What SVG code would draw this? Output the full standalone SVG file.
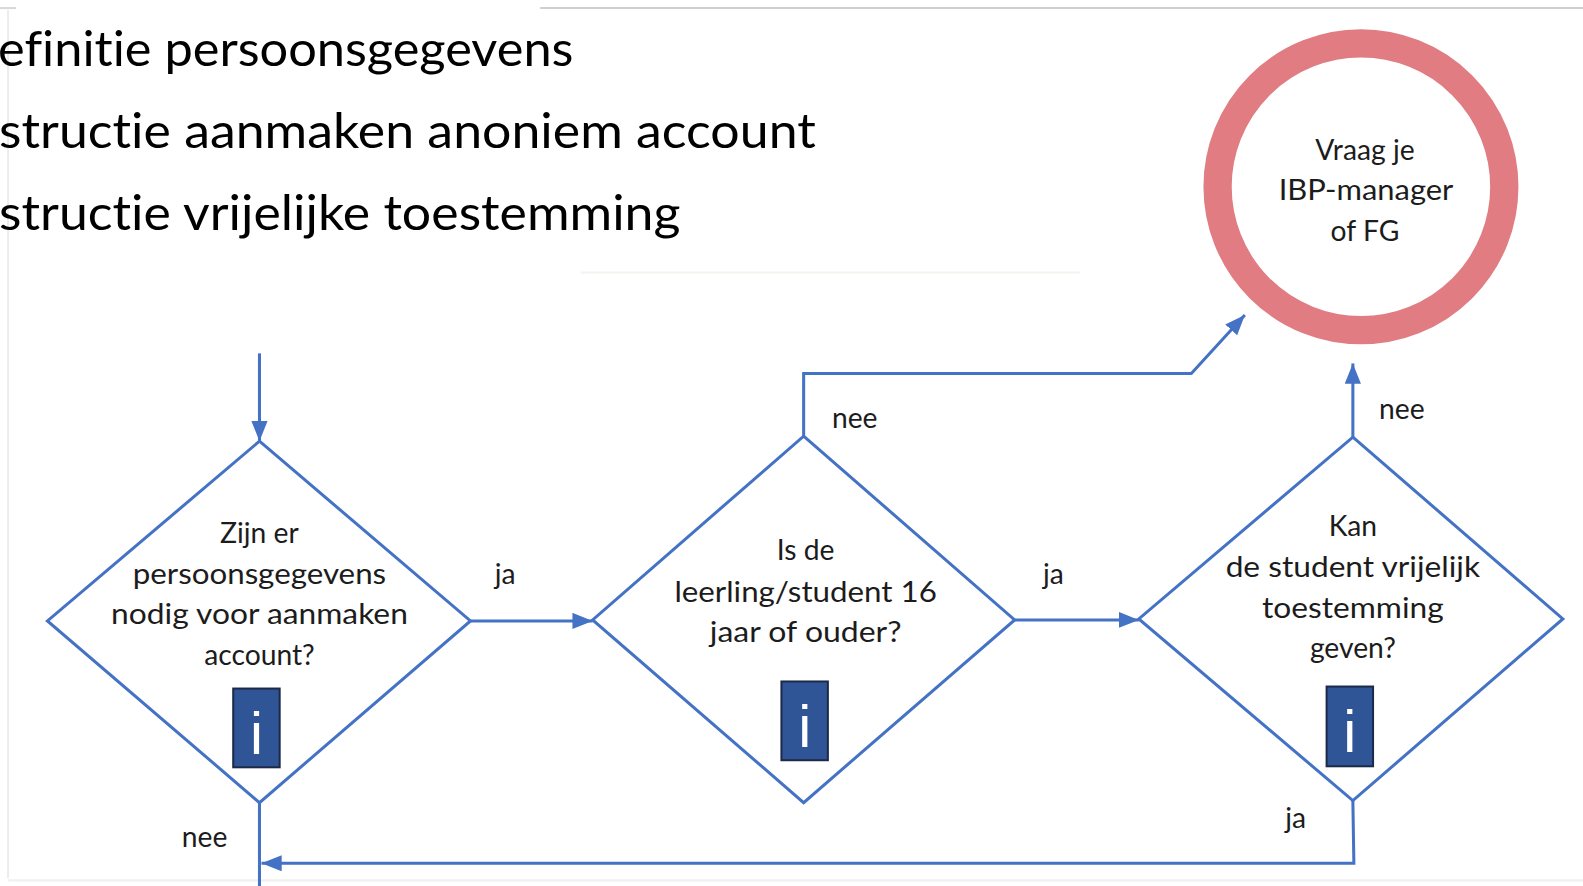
<svg xmlns="http://www.w3.org/2000/svg" width="1583" height="886" viewBox="0 0 1583 886">
<style>
.t{font-family:Lato,"Liberation Sans",sans-serif;fill:#1c1c1c;font-variant-ligatures:none;}
.h{font-size:48px;fill:#000;}
.n{font-size:28px;text-anchor:middle;}
.lb{font-size:28px;}
.d{fill:#fff;stroke:#4472C4;stroke-width:3;stroke-linejoin:miter;}
.c{fill:none;stroke:#4472C4;stroke-width:3;}
.ib{fill:#2F5597;stroke:#1B2A48;stroke-width:2;}
.it{font-family:"Liberation Sans",sans-serif;font-size:58px;fill:#fff;text-anchor:middle;}
</style>
<defs>
<marker id="ah" markerUnits="userSpaceOnUse" markerWidth="22" markerHeight="18" refX="20" refY="8" orient="auto">
<path d="M0,0 L20,8 L0,16 z" fill="#4472C4"/>
</marker>
</defs>
<rect width="1583" height="886" fill="#fff"/>
<g transform="scale(1.0096)">
<g id="frame">
<line x1="535" y1="8" x2="1583" y2="8" stroke="#cfcfcf" stroke-width="2"/>
<line x1="0" y1="8" x2="16" y2="8" stroke="#d8d8d8" stroke-width="2"/>
<line x1="8" y1="10" x2="8" y2="870" stroke="#ececec" stroke-width="2"/>
<line x1="8" y1="872" x2="1583" y2="872" stroke="#f0f0f0" stroke-width="2"/>
<line x1="575" y1="270" x2="1070" y2="270" stroke="#f4f4ee" stroke-width="2"/>
</g>
<g id="heading">
<text class="t h" x="-2" y="65" textLength="570" lengthAdjust="spacingAndGlyphs">efinitie persoonsgegevens</text>
<text class="t h" x="-1" y="147" textLength="809" lengthAdjust="spacingAndGlyphs">structie aanmaken anoniem account</text>
<text class="t h" x="-1" y="228" textLength="675" lengthAdjust="spacingAndGlyphs">structie vrijelijke toestemming</text>
</g>
<g id="connectors">
<line class="c" x1="257" y1="350" x2="257" y2="437" marker-end="url(#ah)"/>
<line class="c" x1="466" y1="615" x2="587" y2="615" marker-end="url(#ah)"/>
<line class="c" x1="1005" y1="614" x2="1128" y2="614" marker-end="url(#ah)"/>
<polyline class="c" points="796,432 796,370 1180,370 1233,312" marker-end="url(#ah)"/>
<line class="c" x1="1340" y1="433" x2="1340" y2="360" marker-end="url(#ah)"/>
<polyline class="c" points="1340,793 1341,855 259,855" marker-end="url(#ah)"/>
<line class="c" x1="257" y1="795" x2="257" y2="886"/>
<text class="t lb" x="490" y="578">ja</text>
<text class="t lb" x="1033" y="578">ja</text>
<text class="t lb" x="824" y="424">nee</text>
<text class="t lb" x="1366" y="415">nee</text>
<text class="t lb" x="180" y="839">nee</text>
<text class="t lb" x="1273" y="820">ja</text>
</g>
<g id="d1">
<polygon class="d" points="257,437 466,615 257,795 47,615"/>
<text class="t n" x="257" y="538">Zijn er</text>
<text class="t n" x="257" y="578" textLength="251" lengthAdjust="spacingAndGlyphs">persoonsgegevens</text>
<text class="t n" x="257" y="618" textLength="294" lengthAdjust="spacingAndGlyphs">nodig voor aanmaken</text>
<text class="t n" x="257" y="659">account?</text>
<rect class="ib" x="231" y="682" width="46" height="78"/>
<text class="it" x="254" y="747">i</text>
</g>
<g id="d2">
<polygon class="d" points="796,432 1005,614 796,795 587,614"/>
<text class="t n" x="798" y="555">Is de</text>
<text class="t n" x="798" y="596" textLength="260" lengthAdjust="spacingAndGlyphs">leerling/student 16</text>
<text class="t n" x="798" y="636" textLength="190" lengthAdjust="spacingAndGlyphs">jaar of ouder?</text>
<rect class="ib" x="774" y="675" width="46" height="78"/>
<text class="it" x="797" y="740">i</text>
</g>
<g id="d3">
<polygon class="d" points="1340,433 1548,613 1340,793 1128,613"/>
<text class="t n" x="1340" y="531">Kan</text>
<text class="t n" x="1340" y="572" textLength="252" lengthAdjust="spacingAndGlyphs">de student vrijelijk</text>
<text class="t n" x="1340" y="612" textLength="180" lengthAdjust="spacingAndGlyphs">toestemming</text>
<text class="t n" x="1340" y="652">geven?</text>
<rect class="ib" x="1314" y="680" width="46" height="79"/>
<text class="it" x="1337" y="745">i</text>
</g>
<g id="circle">
<circle cx="1348" cy="185" r="142" fill="#fff" stroke="#E07C82" stroke-width="28"/>
<text class="t n" x="1352" y="158">Vraag je</text>
<text class="t n" x="1353" y="198" textLength="173" lengthAdjust="spacingAndGlyphs">IBP-manager</text>
<text class="t n" x="1352" y="239">of FG</text>
</g>
</g>
</svg>
